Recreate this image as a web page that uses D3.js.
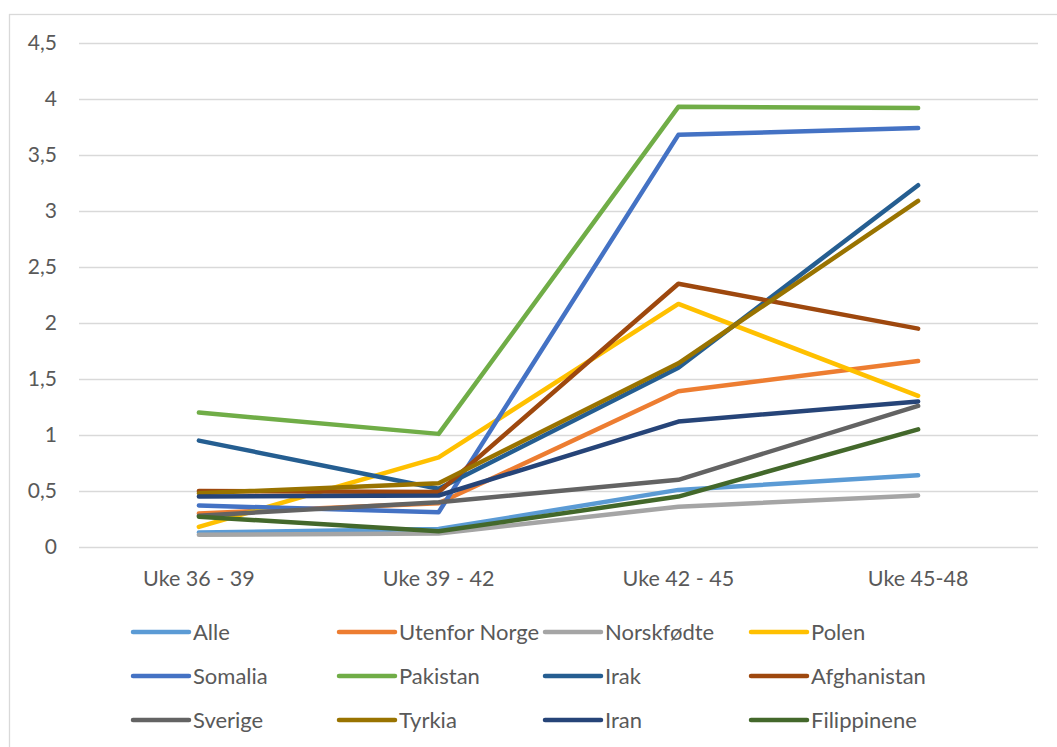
<!DOCTYPE html>
<html>
<head>
<meta charset="utf-8">
<script src="https://cdn.jsdelivr.net/npm/d3@7"></script>
<style>
  body { margin: 0; background: #fff; }
  text { font-family: Lato, "Open Sans", sans-serif; fill: #595959; }
</style>
</head>
<body>
<div id="chart"></div>
<script>
// periods on the x axis
var periods = ["Uke 36 - 39", "Uke 39 - 42", "Uke 42 - 45", "Uke 45-48"];

// values
var alle         = [0.13, 0.16, 0.51, 0.64];
var utenfor      = [0.30, 0.39, 1.39, 1.66];
var norskfodte   = [0.11, 0.12, 0.36, 0.46];
var polen        = [0.18, 0.80, 2.17, 1.35];
var somalia      = [0.37, 0.31, 3.68, 3.74];
var pakistan     = [1.20, 1.01, 3.93, 3.92];
var irak         = [0.95, 0.52, 1.60, 3.23];
var afghanistan  = [0.50, 0.49, 2.35, 1.95];
var sverige      = [0.28, 0.40, 0.60, 1.26];
var tyrkia       = [0.48, 0.57, 1.64, 3.09];
var iran         = [0.45, 0.46, 1.12, 1.30];
var filippinene  = [0.27, 0.14, 0.45, 1.05];

var names  = ["Alle", "Utenfor Norge", "Norskfødte", "Polen", "Somalia", "Pakistan",
              "Irak", "Afghanistan", "Sverige", "Tyrkia", "Iran", "Filippinene"];
var colors = ["#5B9BD5", "#ED7D31", "#A5A5A5", "#FFC000", "#4472C4", "#70AD47",
              "#255E91", "#9E480E", "#636363", "#997300", "#264478", "#43682B"];
var yTicks = [0, 0.5, 1, 1.5, 2, 2.5, 3, 3.5, 4, 4.5];

function drawChart() {
    var seriesValues = [alle, utenfor, norskfodte, polen, somalia, pakistan,
                        irak, afghanistan, sverige, tyrkia, iran, filippinene];
    var series = names.map(function (n, i) {
        return {name: n, color: colors[i], values: seriesValues[i]};
    });

    var W = 1057, H = 747;
    var svg = d3.select("#chart").append("svg").attr("width", W).attr("height", H);

    // outer chart frame
    svg.append("rect")
        .attr("x", 9.5).attr("y", 14.5)
        .attr("width", 1060).attr("height", 760)
        .attr("fill", "none").attr("stroke", "#d9d9d9").attr("stroke-width", 1.3);

    var plotLeft = 79, plotRight = 1038, plotTop = 43, plotBottom = 547;

    var x = d3.scaleBand().domain(periods).range([plotLeft, plotRight]);
    var y = d3.scaleLinear().domain([0, 4.5]).range([plotBottom, plotTop]);

    var fmt = function (d) { return String(d).replace(".", ","); };

    // gridlines
    svg.append("g")
        .selectAll("line")
        .data(yTicks)
        .enter().append("line")
        .attr("x1", plotLeft).attr("x2", plotRight)
        .attr("y1", function (d) { return Math.round(y(d)) + 0.5; })
        .attr("y2", function (d) { return Math.round(y(d)) + 0.5; })
        .attr("stroke", "#d9d9d9").attr("stroke-width", 1.3);

    // y labels
    svg.append("g")
        .selectAll("text")
        .data(yTicks)
        .enter().append("text")
        .attr("x", 57)
        .attr("y", function (d) { return y(d); })
        .attr("dy", "0.35em")
        .attr("text-anchor", "end")
        .style("font-size", "21px")
        .text(fmt);

    // x labels
    svg.append("g")
        .selectAll("text")
        .data(periods)
        .enter().append("text")
        .attr("x", function (d) { return x(d) + x.bandwidth() / 2; })
        .attr("y", 586)
        .attr("text-anchor", "middle")
        .style("font-size", "21.5px")
        .text(function (d) { return d; });

    var line = d3.line()
        .x(function (d, i) { return x(periods[i]) + x.bandwidth() / 2; })
        .y(function (d) { return y(d); });

    svg.append("g")
        .selectAll("path")
        .data(series)
        .enter().append("path")
        .attr("d", function (s) { return line(s.values); })
        .attr("fill", "none")
        .attr("stroke", function (s) { return s.color; })
        .attr("stroke-width", 4.5)
        .attr("stroke-linecap", "round")
        .attr("stroke-linejoin", "round");

    // legend, 4 columns x 3 rows
    var legend = svg.append("g")
        .selectAll("g")
        .data(series)
        .enter().append("g")
        .attr("transform", function (s, i) {
            return "translate(" + (133 + (i % 4) * 206) + "," + (632 + Math.floor(i / 4) * 44) + ")";
        });

    legend.append("line")
        .attr("x1", 0).attr("x2", 56)
        .attr("y1", 0).attr("y2", 0)
        .attr("stroke", function (s) { return s.color; })
        .attr("stroke-width", 4.5)
        .attr("stroke-linecap", "round");

    legend.append("text")
        .attr("x", 60)
        .attr("y", 0)
        .attr("dy", "0.35em")
        .style("font-size", "22px")
        .text(function (s) { return s.name; });
}

drawChart();
</script>
</body>
</html>
